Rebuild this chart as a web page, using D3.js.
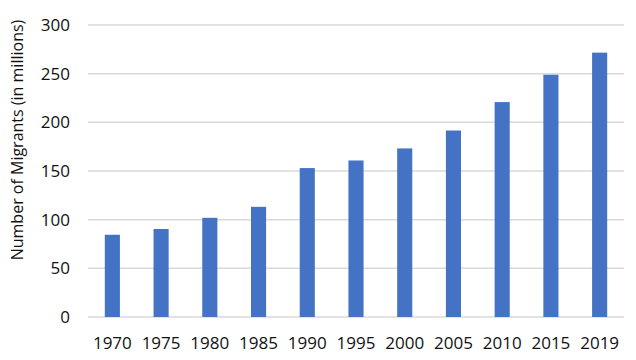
<!DOCTYPE html>
<html>
<head>
<meta charset="utf-8">
<script src="https://cdn.jsdelivr.net/npm/d3@7"></script>
<style>
  body { margin: 0; background: #fff; }
  text { font-family: "Open Sans", sans-serif; fill: #111; }
</style>
</head>
<body>
<script>
var years = ["1970", "1975", "1980", "1985", "1990", "1995", "2000", "2005", "2010", "2015", "2019"];
var migrants = [84.5, 90.4, 101.9, 113.2, 153.0, 160.8, 173.2, 191.6, 220.8, 248.9, 271.6];
var yTicks = [0, 50, 100, 150, 200, 250, 300];

var width = 636, height = 360;
var margin = {top: 25, right: 12, bottom: 43, left: 88};

var svg = d3.select("body")
            .append("svg")
            .attr("width", width)
            .attr("height", height);

var x = d3.scaleBand()
  .domain(years)
  .range([margin.left, width - margin.right])
  .paddingInner(0.69)
  .paddingOuter(0.345);

var y = d3.scaleLinear()
  .domain([0, 300])
  .range([height - margin.bottom, margin.top]);

// gridlines
svg.append("g")
  .selectAll("line")
  .data(yTicks)
  .enter().append("line")
  .attr("x1", margin.left)
  .attr("x2", width - margin.right)
  .attr("y1", function(d) { return y(d); })
  .attr("y2", function(d) { return y(d); })
  .style("stroke", "#d9d9d9")
  .style("stroke-width", 1.5);

// y tick labels
svg.append("g")
  .selectAll("text")
  .data(yTicks)
  .enter().append("text")
  .attr("x", 70)
  .attr("y", function(d) { return y(d); })
  .attr("dy", "0.36em")
  .attr("text-anchor", "end")
  .attr("font-size", "17px")
  .text(function(d) { return d; });

// bars
svg.append("g")
  .selectAll("rect")
  .data(migrants)
  .enter().append("rect")
  .attr("x", function(d, i) { return x(years[i]); })
  .attr("width", x.bandwidth())
  .attr("y", function(d) { return y(d); })
  .attr("height", function(d) { return y(0) - y(d); })
  .style("fill", "#4472c4");

// x labels
svg.append("g")
  .selectAll("text")
  .data(years)
  .enter().append("text")
  .attr("x", function(d) { return x(d) + x.bandwidth() / 2; })
  .attr("y", 343)
  .attr("dy", "0.36em")
  .attr("text-anchor", "middle")
  .attr("font-size", "17px")
  .text(function(d) { return d; });

// y title
svg.append("text")
  .attr("transform", "translate(17,140) rotate(-90)")
  .attr("dy", "0.36em")
  .attr("text-anchor", "middle")
  .attr("font-size", "16px")
  .text("Number of Migrants (in millions)");
</script>
</body>
</html>
